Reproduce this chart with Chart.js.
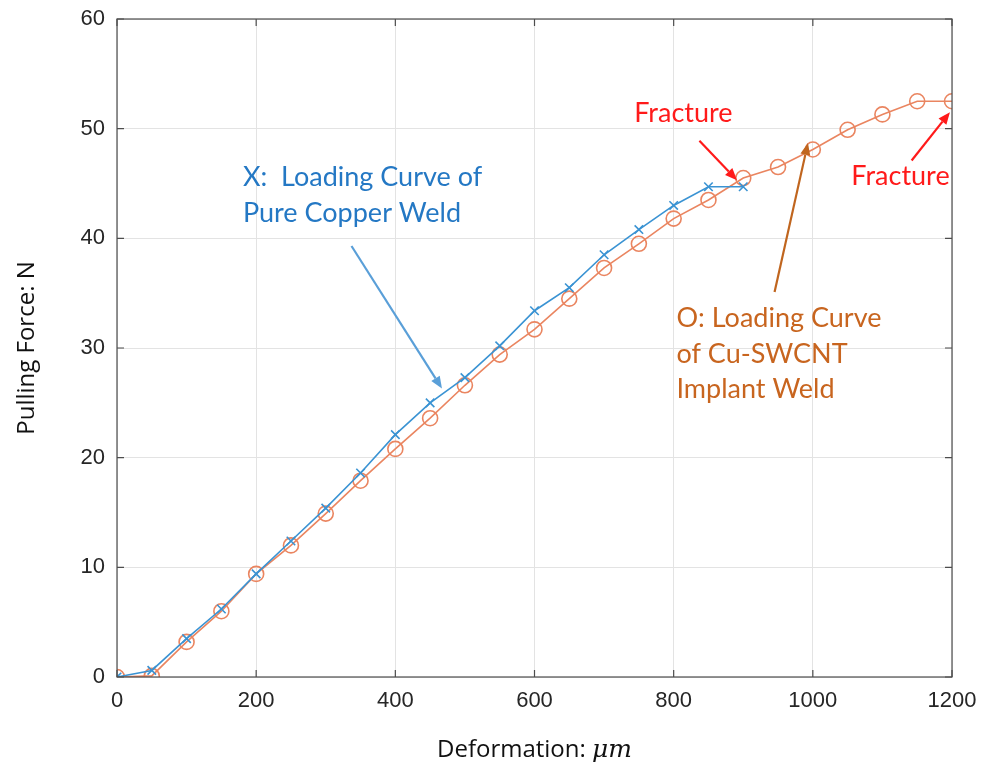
<!DOCTYPE html>
<html>
<head>
<meta charset="utf-8">
<script src="https://cdn.jsdelivr.net/npm/chart.js@4.4.1/dist/chart.umd.min.js"></script>
<style>
  html, body { margin: 0; padding: 0; background: #fff; }
  #wrap { width: 995px; height: 773px; }
</style>
</head>
<body>
<div id="wrap"><canvas id="canvas" width="995" height="773"></canvas></div>
<script>
// deformation (um) and force (N)
var copperX = [0, 50, 100, 150, 200, 250, 300, 350, 400, 450, 500, 550, 600, 650, 700, 750, 800, 850, 900];
var copperForce = [0, 0.6, 3.5, 6.2, 9.4, 12.4, 15.4, 18.6, 22.1, 25.0, 27.3, 30.2, 33.4, 35.5, 38.5, 40.8, 43.0, 44.7, 44.7];

var cntX = [0, 50, 100, 150, 200, 250, 300, 350, 400, 450, 500, 550, 600, 650, 700, 750, 800, 850, 900, 950, 1000, 1050, 1100, 1150, 1200];
var cntForce = [0, 0.1, 3.2, 6.0, 9.4, 12.0, 14.9, 17.9, 20.8, 23.6, 26.6, 29.4, 31.7, 34.5, 37.3, 39.5, 41.8, 43.5, 45.5, 46.5, 48.1, 49.9, 51.3, 52.5, 52.5];

var xTicks = [0, 200, 400, 600, 800, 1000, 1200];
var yTicks = [0, 10, 20, 30, 40, 50, 60];

// annotations, placed in data units
var notes = [
  { lines: ['X:  Loading Curve of', 'Pure Copper Weld'], x: 181, y: [45.6, 42.3], color: '#2478c4', align: 'left' },
  { lines: ['Fracture'], x: 814, y: [51.4], color: '#ff1a1a', align: 'center' },
  { lines: ['Fracture'], x: 1126, y: [45.7], color: '#ff1a1a', align: 'center' },
  { lines: ['O: Loading Curve', 'of Cu-SWCNT', 'Implant Weld'], x: 804, y: [32.7, 29.4, 26.2], color: '#c8651f', align: 'left' }
];
var arrows = [
  { from: [337, 39.3], to: [467, 26.3], color: '#5a9fd8' },
  { from: [837, 48.9], to: [891, 45.3], color: '#ff1a1a' },
  { from: [1142, 47.1], to: [1197, 51.5], color: '#ff1a1a' },
  { from: [945, 35.1], to: [993, 48.7], color: '#c0651e' }
];

function pts(xs, ys) {
  return xs.map(function (v, i) { return { x: v, y: ys[i] }; });
}

var boxPlugin = {
  id: 'box',
  afterDraw: function (chart) {
    var c = chart.ctx, a = chart.chartArea;
    var sx = chart.scales.x, sy = chart.scales.y;
    c.save();
    c.strokeStyle = '#4d4d4d';
    c.lineWidth = 1.2;
    c.strokeRect(a.left, a.top, a.right - a.left, a.bottom - a.top);
    // inward ticks
    xTicks.forEach(function (t) {
      var px = sx.getPixelForValue(t);
      c.beginPath();
      c.moveTo(px, a.bottom); c.lineTo(px, a.bottom - 7);
      c.moveTo(px, a.top); c.lineTo(px, a.top + 7);
      c.stroke();
    });
    yTicks.forEach(function (t) {
      var py = sy.getPixelForValue(t);
      c.beginPath();
      c.moveTo(a.left, py); c.lineTo(a.left + 7, py);
      c.moveTo(a.right, py); c.lineTo(a.right - 7, py);
      c.stroke();
    });
    // arrows
    arrows.forEach(function (ar) {
      var x1 = sx.getPixelForValue(ar.from[0]), y1 = sy.getPixelForValue(ar.from[1]);
      var x2 = sx.getPixelForValue(ar.to[0]), y2 = sy.getPixelForValue(ar.to[1]);
      var ang = Math.atan2(y2 - y1, x2 - x1);
      var hl = 12, hw = 5;
      c.strokeStyle = ar.color;
      c.fillStyle = ar.color;
      c.lineWidth = 2.2;
      c.beginPath();
      c.moveTo(x1, y1);
      c.lineTo(x2 - hl * Math.cos(ang), y2 - hl * Math.sin(ang));
      c.stroke();
      c.beginPath();
      c.moveTo(x2, y2);
      c.lineTo(x2 - hl * Math.cos(ang) + hw * Math.sin(ang), y2 - hl * Math.sin(ang) - hw * Math.cos(ang));
      c.lineTo(x2 - hl * Math.cos(ang) - hw * Math.sin(ang), y2 - hl * Math.sin(ang) + hw * Math.cos(ang));
      c.closePath();
      c.fill();
    });
    // text
    c.font = '27px Lato, "Open Sans", sans-serif';
    c.textBaseline = 'middle';
    notes.forEach(function (n) {
      c.fillStyle = n.color;
      c.textAlign = n.align;
      n.lines.forEach(function (s, i) {
        c.fillText(s, sx.getPixelForValue(n.x), sy.getPixelForValue(n.y[i]));
      });
    });
    // x axis title with italic unit
    var t1 = 'Deformation: ', t2 = 'μm';
    var f1 = '24px "Open Sans", sans-serif', f2 = 'italic 25px "DejaVu Serif", "Liberation Serif", serif';
    c.font = f1; var w1 = c.measureText(t1).width;
    c.font = f2; var w2 = c.measureText(t2).width;
    var cx = (a.left + a.right) / 2 - (w1 + w2) / 2;
    c.textAlign = 'left';
    c.textBaseline = 'alphabetic';
    c.fillStyle = '#111';
    c.font = f1; c.fillText(t1, cx, 757);
    c.font = f2; c.fillText(t2, cx + w1, 757);
    c.restore();
  }
};

new Chart(document.getElementById('canvas').getContext('2d'), {
  type: 'line',
  data: {
    datasets: [{
      label: 'Pure Copper Weld',
      data: pts(copperX, copperForce),
      borderColor: '#3a93d3',
      borderWidth: 1.6,
      pointStyle: 'crossRot',
      pointRadius: 6,
      pointBorderColor: '#3a93d3',
      pointBorderWidth: 1.6,
      fill: false,
      tension: 0
    }, {
      label: 'Cu-SWCNT Implant Weld',
      data: pts(cntX, cntForce),
      borderColor: '#ea8560',
      borderWidth: 1.6,
      pointStyle: 'circle',
      pointRadius: 7.5,
      pointBackgroundColor: 'rgba(0,0,0,0)',
      pointBorderColor: '#ea8560',
      pointBorderWidth: 1.6,
      fill: false,
      tension: 0
    }]
  },
  options: {
    responsive: false,
    animation: false,
    layout: { padding: { left: 0, right: 43, top: 19, bottom: 0 } },
    plugins: { legend: { display: false }, tooltip: { enabled: false } },
    scales: {
      x: {
        type: 'linear', min: 0, max: 1200,
        afterBuildTicks: function (s) { s.ticks = xTicks.map(function (v) { return { value: v }; }); },
        afterFit: function (s) { s.height = 96; s.paddingLeft = 0; s.paddingRight = 0; },
        grid: { color: '#e3e3e3', drawTicks: false },
        border: { display: false },
        ticks: {
          color: '#262626', font: { family: 'Liberation Sans, Arial', size: 22 }, padding: 11, maxRotation: 0,
          callback: function (v) { return String(v); }
        },
        title: { display: false }
      },
      y: {
        min: 0, max: 60,
        afterBuildTicks: function (s) { s.ticks = yTicks.map(function (v) { return { value: v }; }); },
        afterFit: function (s) { s.width = 117; s.paddingTop = 0; s.paddingBottom = 0; },
        grid: { color: '#e3e3e3', drawTicks: false },
        border: { display: false },
        ticks: { color: '#262626', font: { family: 'Liberation Sans, Arial', size: 22 }, padding: 12 },
        title: { display: true, text: 'Pulling Force: N', color: '#111', font: { family: 'Open Sans', size: 24 }, padding: { top: 13, bottom: 0 } }
      }
    }
  },
  plugins: [boxPlugin]
});
</script>
</body>
</html>
